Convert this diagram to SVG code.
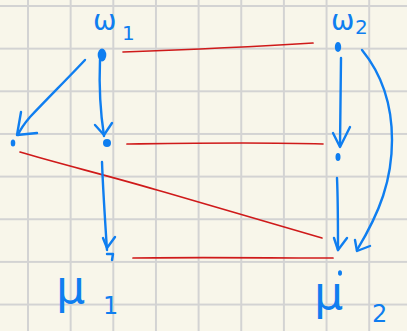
<svg xmlns="http://www.w3.org/2000/svg" width="407" height="331" viewBox="0 0 407 331">
<defs>
<pattern id="grid" x="0" y="0" width="42.65" height="42.65" patternUnits="userSpaceOnUse" patternTransform="translate(28 6)">
<rect x="-1" y="0" width="2" height="42.65" fill="#d3d3d3"/>
<rect x="0" y="-1" width="42.65" height="2" fill="#d3d3d3"/>
<rect x="41.65" y="0" width="2" height="42.65" fill="#d3d3d3"/>
<rect x="0" y="41.65" width="42.65" height="2" fill="#d3d3d3"/>
</pattern>
</defs>
<style>
.b{fill:none;stroke:#0f7ef0;stroke-width:2.4;stroke-linecap:round;stroke-linejoin:round}
.r{fill:none;stroke:#cf1a1a;stroke-width:1.7;stroke-linecap:round}
.dot{fill:#0f7ef0}
.lbl{fill:#0f7ef0;font-family:"DejaVu Sans","Liberation Sans",sans-serif}
</style>
<rect width="407" height="331" fill="#f8f6ea"/>
<rect width="407" height="331" fill="url(#grid)"/>
<g id="connectors">
<path class="r" d="M123,52 C180,50 250,47 313,43"/>
<path class="r" d="M127,144 C200,143 260,142 323,144"/>
<path class="r" d="M20,152 C60,164 110,176 157,190 C200,202 240,214 322,238"/>
<path class="r" d="M133,258 C200,257 270,258 333,258"/>
<path class="b" d="M85,60 C70,76 50,96 30,117 C24,124 20,130 18,135"/>
<path class="b" d="M21,112 L17,135 L37,133"/>
<path class="b" d="M100,60 C99,85 100,110 104,136"/>
<path class="b" d="M95,125 L104,135 L112,123"/>
<path class="b" d="M102,162 C103,190 105,220 107,250"/>
<path class="b" d="M103,238 L107,248 L115,237"/>
<path class="b" d="M341,58 L340,146"/>
<path class="b" d="M333,133 L340,147 L350,127"/>
<path class="b" d="M337,178 C338,200 338,225 338,250"/>
<path class="b" d="M334,238 L338,250 L347,238"/>
<path class="b" d="M362,50 C380,72 392,100 392,140 C392,180 380,212 357,250"/>
<path class="b" d="M355,240 L357,251 L370,246"/>
</g>
<g id="n-w1">
<ellipse class="dot" cx="102" cy="55" rx="4.3" ry="6.5"/>
<text class="lbl" x="93" y="30" font-size="28">ω</text>
<text class="lbl" x="122" y="40" font-size="20">1</text>
</g>
<g id="n-left">
<ellipse class="dot" cx="13" cy="143" rx="2.3" ry="3.5"/>
</g>
<g id="n-mid1">
<ellipse class="dot" cx="107" cy="143" rx="4" ry="4"/>
</g>
<g id="n-mu1">
<path class="b" d="M107,254 L113,254 L112,260"/>
<text class="lbl" x="56" y="303" font-size="46">μ</text>
<text class="lbl" x="103" y="314" font-size="24">1</text>
</g>
<g id="n-w2">
<ellipse class="dot" cx="338" cy="47" rx="3.2" ry="5"/>
<text class="lbl" x="331" y="30" font-size="28">ω</text>
<text class="lbl" x="355" y="34" font-size="20">2</text>
</g>
<g id="n-mid2">
<ellipse class="dot" cx="338" cy="157" rx="2.5" ry="4"/>
</g>
<g id="n-mu2">
<ellipse class="dot" cx="340" cy="273" rx="2" ry="2.8"/>
<text class="lbl" x="314" y="309" font-size="46">μ</text>
<text class="lbl" x="372" y="322" font-size="24">2</text>
</g>
</svg>
